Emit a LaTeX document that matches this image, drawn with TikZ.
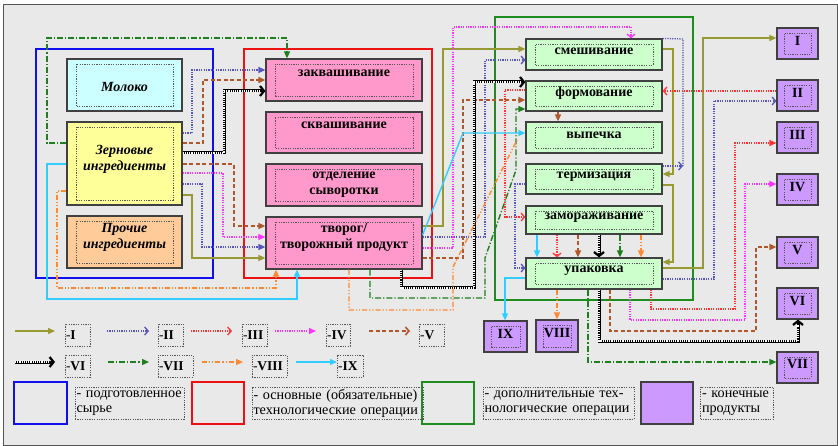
\documentclass[tikz,border=0pt]{standalone}
\usepackage{fontspec}
\setmainfont{Liberation Serif}
\usetikzlibrary{arrows.meta}
\definecolor{bgc}{HTML}{E9E9E9}
\definecolor{framec}{HTML}{555555}
\definecolor{boxline}{HTML}{404040}
\definecolor{innerc}{HTML}{555555}
\definecolor{fCyan}{HTML}{CCFFFF}
\definecolor{fYellow}{HTML}{FFFF99}
\definecolor{fPeach}{HTML}{FFCC99}
\definecolor{fPink}{HTML}{FF99CC}
\definecolor{fGreen}{HTML}{CCFFCC}
\definecolor{fPurple}{HTML}{CC99FF}
\definecolor{gBlue}{HTML}{1010EE}
\definecolor{gRed}{HTML}{EE1111}
\definecolor{gGreen}{HTML}{1E8C1E}
\definecolor{cI}{HTML}{999933}
\definecolor{cII}{HTML}{5555BB}
\definecolor{cIII}{HTML}{FF3333}
\definecolor{cIV}{HTML}{FF33FF}
\definecolor{cV}{HTML}{B0582A}
\definecolor{cVII}{HTML}{1E7F1E}
\definecolor{cVIII}{HTML}{FF8833}
\definecolor{cIX}{HTML}{33CCFF}
\tikzset{
  ta/.style={-{Triangle[length=7pt,width=6pt]}},
  ba/.style={-{Straight Barb[length=3.5pt,width=8pt]}},
  lI/.style={draw=cI, line width=1.4pt},
  lII/.style={draw=cII, line width=1.3pt, dash pattern=on 1.2pt off 1.2pt},
  lIII/.style={draw=cIII, line width=1.3pt, dash pattern=on 1.2pt off 1.2pt},
  lIV/.style={draw=cIV, line width=1.3pt, dash pattern=on 1.2pt off 1.2pt},
  lV/.style={draw=cV, line width=1.6pt, dash pattern=on 4pt off 2.5pt},
  lVII/.style={draw=cVII, line width=1.4pt, dash pattern=on 6pt off 2pt on 1.2pt off 2pt},
  lVIII/.style={draw=cVIII, line width=1.4pt, dash pattern=on 5pt off 2pt on 1.2pt off 2pt on 1.2pt off 2pt},
  lIX/.style={draw=cIX, line width=1.4pt},
  chainbase/.style={draw=black, line width=3pt},
  chaintop/.style={draw=white, line width=1.3pt, dash pattern=on 1.1pt off 1.1pt},
  sbox/.style={draw=boxline, line width=1.2pt, inner sep=0pt},
  inset/.style 2 args={path picture={\draw[draw=innerc, line width=0.6pt, dash pattern=on 1.2pt off 1.2pt] ([xshift=#1,yshift=#2]path picture bounding box.south west) rectangle ([xshift=-#1,yshift=-#2]path picture bounding box.north east);}},
  grp/.style={line width=2.5pt, inner sep=0pt},
  bt/.style={font=\fontsize{14}{16}\selectfont\bfseries, align=center, inner sep=0pt},
  itx/.style={font=\fontsize{14}{16}\selectfont\bfseries\itshape, align=center, inner sep=0pt},
  lt/.style={font=\fontsize{14.2}{15}\selectfont, align=left, inner sep=1.5pt},
  kt/.style={font=\fontsize{13.5}{15}\selectfont, align=left, inner sep=1pt},
  dbox/.style={draw=innerc, line width=0.6pt, dash pattern=on 1.2pt off 1.2pt},
  pink/.style={sbox, fill=fPink, inset={9pt}{5pt}, minimum width=156pt},
  grn/.style={sbox, fill=fGreen, inset={9pt}{5pt}, minimum width=136pt},
  prod/.style={sbox, fill=fPurple, inset={7pt}{5pt}, minimum width=41pt, minimum height=31pt},
  src/.style={sbox, inset={9pt}{5pt}, minimum width=115pt},
}
\newcommand\chainconn[1]{\draw[chainbase,-{Straight Barb[length=4pt,width=10pt,line width=2.2pt]}] #1; \draw[chaintop,shorten >=5pt] #1;}
\begin{document}
\begin{tikzpicture}[x=1pt,y=-1pt]
\useasboundingbox (0,0) rectangle (838,446);
\fill[white] (0,0) rectangle (838,446);
\draw[fill=bgc, draw=framec, line width=1pt] (3,5) rectangle (837,445);
% groups
\node[grp, draw=gBlue, minimum width=177pt, minimum height=229pt] (rawgrp) at (124.5,163.5) {};
\node[grp, draw=gRed, minimum width=188pt, minimum height=229pt] (maingrp) at (338,163.5) {};
\node[grp, draw=gGreen, minimum width=198pt, minimum height=283pt] (addgrp) at (594,158.5) {};
% source boxes
\node[src, fill=fCyan, minimum height=52pt] (milk) at (124.5,85) {};
\node[itx] (milk-t) at (124.5,87) {Молоко};
\node[src, fill=fYellow, minimum height=83pt] (grain) at (124.5,163.5) {};
\node[itx] (grain-t) at (124.5,159) {Зерновые\\ингредиенты};
\node[src, fill=fPeach, minimum height=52pt] (other) at (124.5,242) {};
\node[itx] (other-t) at (124.5,237) {Прочие\\ингредиенты};
% main operations
\node[pink, minimum height=42pt] (zakv) at (344,80) {};
\node[bt] (zakv-t) at (344,73) {заквашивание};
\node[pink, minimum height=41pt] (skv) at (344,132.5) {};
\node[bt] (skv-t) at (344,125) {сквашивание};
\node[pink, minimum height=42pt] (otd) at (344,185) {};
\node[bt] (otd-t) at (344,185) {отделение\\сыворотки};
\node[pink, minimum height=52pt] (tvor) at (344,243) {};
\node[bt] (tvor-t) at (344,237.5) {творог/\\творожный продукт};
% additional operations
\node[grn, minimum height=31pt] (smesh) at (594,54.5) {};
\node[bt] (smesh-t) at (594,51.5) {смешивание};
\node[grn, minimum height=30pt] (form) at (594,96) {};
\node[bt] (form-t) at (594,93.5) {формование};
\node[grn, minimum height=31pt] (vyp) at (594,137.5) {};
\node[bt] (vyp-t) at (594,135) {выпечка};
\node[grn, minimum height=30pt] (term) at (594,179) {};
\node[bt] (term-t) at (594,177) {термизация};
\node[grn, minimum height=28pt] (zamor) at (594,220) {};
\node[bt] (zamor-t) at (594,218) {замораживание};
\node[grn, minimum height=31pt] (upak) at (594,273.5) {};
\node[bt] (upak-t) at (594,271) {упаковка};
% products
\node[prod] (p1) at (797.5,43.5) {}; \node[bt] (p1-t) at (797.5,41) {I};
\node[prod] (p2) at (797.5,95.5) {}; \node[bt] (p2-t) at (797.5,93) {II};
\node[prod] (p3) at (797.5,137.5) {}; \node[bt] (p3-t) at (797.5,135) {III};
\node[prod] (p4) at (797.5,189.5) {}; \node[bt] (p4-t) at (797.5,187) {IV};
\node[prod] (p5) at (797.5,252.5) {}; \node[bt] (p5-t) at (797.5,250) {V};
\node[prod] (p6) at (797.5,303.5) {}; \node[bt] (p6-t) at (797.5,301) {VI};
\node[prod] (p7) at (797.5,367.5) {}; \node[bt] (p7-t) at (797.5,364.5) {VII};
\node[prod, minimum width=43pt] (p9) at (505.5,336.5) {}; \node[bt] (p9-t) at (505.5,334) {IX};
\node[prod, minimum width=42pt, minimum height=32pt] (p8) at (557,336) {}; \node[bt] (p8-t) at (557,333) {VIII};
% ---- connectors I
\draw[lI,ta] (grain.east |- 0,195) -- (192,195) -- (192,258) -- (tvor.west |- 0,258);
\draw[lI,ta] (tvor.east |- 0,226) -- (443,226) -- (443,49) -- (smesh.west |- 0,49);
\draw[lI,ta] (smesh.east |- 0,49) -- (673,49) -- (673,174) -- (term.east |- 0,174);
\draw[lI,ta] (term.east |- 0,185) -- (673,185) -- (673,262) -- (upak.east |- 0,262);
\draw[lI,ta] (upak.east |- 0,268) -- (703,268) -- (703,38) -- (p1.west |- 0,38);
% ---- II
\draw[lII,ta] (grain.east |- 0,133) -- (192,133) -- (192,70) -- (zakv.west |- 0,70);
\draw[lII,ta] (grain.east |- 0,184) -- (202,184) -- (202,247) -- (tvor.west |- 0,247);
\draw[lII,ba] (tvor.east |- 0,237) -- (485,237) -- (485,60) -- (smesh.west |- 0,60);
\draw[lII] (smesh.north east) -- (683,39) -- (683,166);
\draw[lII,ba] (term.east |- 0,166) -- (683,166);
\draw[lII,ba] (term.west |- 0,184) -- (515,184) -- (515,268) -- (upak.west |- 0,268);
\draw[lII,ba] (upak.east |- 0,279) -- (714,279) -- (714,101) -- (p2.west |- 0,101);
% ---- III
\draw[lIII,ba] (p2.west |- 0,91) -- (form.east |- 0,91);
\draw[lIII,ba] (form.west |- 0,90) -- (505,90) -- (505,217) -- (zamor.west |- 0,217);
\draw[lIII,ba] (557,0 |- zamor.south) -- (557,0 |- upak.north);
\draw[lIII,ta] (651,0 |- upak.south) -- (651,309) -- (735,309) -- (735,143) -- (p3.west |- 0,143);
% ---- IV
\draw[lIV,ta] (grain.east |- 0,173) -- (223,173) -- (223,237) -- (tvor.west |- 0,237);
\draw[lIV,ba] (tvor.east |- 0,248) -- (453,248) -- (453,27) -- (631,27) -- (631,0 |- smesh.north);
\draw[lIV,ta] (630,0 |- upak.south) -- (630,320) -- (745,320) -- (745,184) -- (p4.west |- 0,184);
% ---- V
\draw[lV,ta] (grain.east |- 0,143) -- (203,143) -- (203,80) -- (zakv.west |- 0,80);
\draw[lV,ta] (grain.east |- 0,164) -- (234,164) -- (234,226) -- (tvor.west |- 0,226);
\draw[lV,ta] (tvor.east |- 0,258) -- (463,258) -- (463,100) -- (form.west |- 0,100);
\draw[lV,ta] (558,0 |- form.south) -- (558,0 |- vyp.north);
\draw[lV,ta] (578,0 |- zamor.south) -- (578,0 |- upak.north);
\draw[lV,ta] (610,0 |- upak.south) -- (610,331) -- (756,331) -- (756,247) -- (p5.west |- 0,247);
% ---- VI
\chainconn{(grain.east |- 0,153) -- (224,153) -- (224,91) -- (zakv.west |- 0,91)}
\chainconn{(401,0 |- tvor.south) -- (401,288) -- (474,288) -- (474,82) -- (form.west |- 0,82)}
\chainconn{(599,0 |- zamor.south) -- (599,0 |- upak.north)}
\chainconn{(599,0 |- upak.south) -- (599,341) -- (798,341) -- (798,0 |- p6.south)}
% ---- VII
\draw[lVII,ta] (grain.west |- 0,143) -- (47,143) -- (47,38) -- (287,38) -- (287,0 |- zakv.north);
\draw[lVII,ta] (370,0 |- tvor.south) -- (370,298) -- (485,298) -- (485,258) -- (516,170) -- (516,109) -- (form.west |- 0,109);
\draw[lVII,ta] (620,0 |- zamor.south) -- (620,0 |- upak.north);
\draw[lVII,ta] (588,0 |- upak.south) -- (588,362) -- (p7.west |- 0,362);
% ---- VIII
\coordinate (o8end) at (517,140);
\draw[lVIII,ta] (grain.west |- 0,191) -- (57,191) -- (57,288) -- (276,288) -- (276,0 |- tvor.south);
\draw[lVIII] (349,0 |- tvor.south) -- (349,310) -- (453,310) -- (453,267) -- (o8end);
\draw[lVIII,ta] (641,0 |- zamor.south) -- (641,0 |- upak.north);
\draw[lVIII,ta] (557,0 |- upak.south) -- (557,0 |- p8.north);
% ---- IX
\draw[lIX,ta] (grain.west |- 0,164) -- (47,164) -- (47,299) -- (297,299) -- (297,0 |- tvor.south);
\draw[lIX,ta] (tvor.east |- 0,235) -- (463,133) -- (vyp.west |- 0,133);
\draw[lIX,ta] (537,0 |- zamor.south) -- (537,0 |- upak.north);
\draw[lIX,ta] (upak.west |- 0,278) -- (505,278) -- (505,0 |- p9.north);
% ---- legend arrows
\coordinate (a1s) at (15,331);  \coordinate (a1e) at (55,331);
\coordinate (a2s) at (107,331); \coordinate (a2e) at (149,331);
\coordinate (a3s) at (191,331); \coordinate (a3e) at (232,331);
\coordinate (a4s) at (275,331); \coordinate (a4e) at (316,331);
\coordinate (a5s) at (369,331); \coordinate (a5e) at (410,331);
\coordinate (a6s) at (15,362);  \coordinate (a6e) at (55,362);
\coordinate (a7s) at (108,362); \coordinate (a7e) at (149,362);
\coordinate (a8s) at (202,362); \coordinate (a8e) at (243,362);
\coordinate (a9s) at (296,362); \coordinate (a9e) at (337,362);
\draw[lI,ta] (a1s) -- (a1e);
\draw[lII,ba] (a2s) -- (a2e);
\draw[lIII,ba] (a3s) -- (a3e);
\draw[lIV,ta] (a4s) -- (a4e);
\draw[lV,ba] (a5s) -- (a5e);
\chainconn{(a6s) -- (a6e)}
\draw[lVII,ta] (a7s) -- (a7e);
\draw[lVIII,ta] (a8s) -- (a8e);
\draw[lIX,ta] (a9s) -- (a9e);
% legend keys
\node[dbox, kt, minimum height=22pt, text width=23pt] (k1) at (77.5,335) {-\textbf{I}};
\node[dbox, kt, minimum height=22pt, text width=23pt] (k2) at (170.5,335) {-\textbf{II}};
\node[dbox, kt, minimum height=22pt, text width=23pt] (k3) at (254.5,335) {-\textbf{III}};
\node[dbox, kt, minimum height=22pt, text width=22pt] (k4) at (338,335) {-\textbf{IV}};
\node[dbox, kt, minimum height=22pt, text width=23pt] (k5) at (431.5,335) {-\textbf{V}};
\node[dbox, kt, minimum height=22pt, text width=23pt] (k6) at (77.5,366) {-\textbf{VI}};
\node[dbox, kt, minimum height=22pt, text width=33pt] (k7) at (175.5,366) {-\textbf{VII}};
\node[dbox, kt, minimum height=22pt, text width=33pt] (k8) at (269.5,366) {-\textbf{VIII}};
\node[dbox, kt, minimum height=22pt, text width=24pt] (k9) at (350,366) {-\textbf{IX}};
% legend squares
\node[grp, draw=gBlue, minimum width=53pt, minimum height=42pt] (sq1) at (40.5,403) {};
\node[grp, draw=gRed, minimum width=52pt, minimum height=42pt] (sq2) at (218,403) {};
\node[grp, draw=gGreen, minimum width=52pt, minimum height=42pt] (sq3) at (448,403) {};
\node[sbox, fill=fPurple, minimum width=52pt, minimum height=42pt] (sq4) at (667,403) {};
\node[dbox, lt, minimum height=32pt, text width=106pt] (t1) at (129.5,403) {\mbox{- подготовленное}\\сырье};
\node[dbox, lt, minimum height=32pt, text width=168pt] (t2) at (337.5,403) {\mbox{- основные (обязательные)}\\\mbox{технологические операции}};
\node[dbox, lt, minimum height=32pt, text width=148pt] (t3) at (558.5,403) {\mbox{- дополнительные тех-}\\\mbox{нологические операции}};
\node[dbox, lt, minimum height=32pt, text width=70pt] (t4) at (737,403) {\mbox{- конечные}\\продукты};
\end{tikzpicture}
\end{document}
